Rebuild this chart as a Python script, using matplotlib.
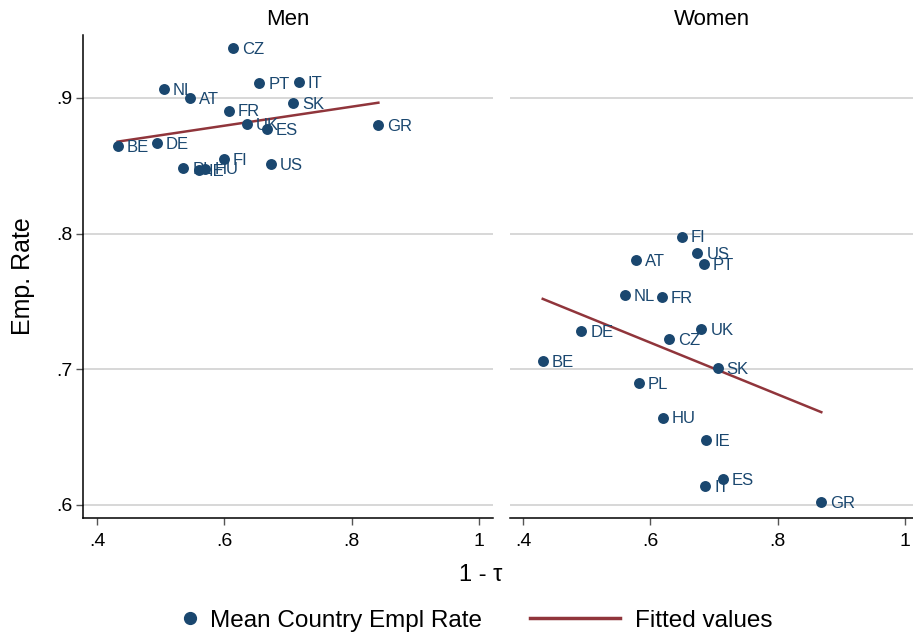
# Employment rate vs 1 - tau, by sex

import matplotlib.pyplot as plt
import numpy as np
from matplotlib.lines import Line2D

plt.rcParams['font.family'] = ['Liberation Sans', 'DejaVu Sans']

countries_men = ['CZ', 'NL', 'AT', 'PT', 'IT', 'SK', 'FR', 'UK', 'ES', 'GR',
                 'BE', 'DE', 'FI', 'US', 'PL', 'IE', 'HU']
x_men = [0.614, 0.505, 0.546, 0.655, 0.717, 0.708, 0.607, 0.635, 0.667, 0.842,
         0.4325, 0.494, 0.5995, 0.673, 0.5356, 0.5607, 0.570]
y_men = [0.937, 0.9066, 0.900, 0.911, 0.912, 0.896, 0.8907, 0.881, 0.877, 0.880,
         0.8646, 0.8666, 0.855, 0.851, 0.8484, 0.847, 0.848]
# fitted values at the ends of the x range
fit_men = [0.8678, 0.8965]

countries_women = ['FI', 'US', 'PT', 'AT', 'NL', 'FR', 'DE', 'UK', 'CZ', 'BE',
                   'SK', 'PL', 'HU', 'IE', 'ES', 'IT', 'GR']
x_women = [0.649, 0.674, 0.684, 0.577, 0.560, 0.618, 0.4916, 0.680, 0.629, 0.431,
           0.7058, 0.5817, 0.6194, 0.687, 0.7137, 0.686, 0.8685]
y_women = [0.7978, 0.7855, 0.7777, 0.7804, 0.7546, 0.7531, 0.7283, 0.7295, 0.7222, 0.706,
           0.701, 0.6898, 0.6644, 0.648, 0.619, 0.6136, 0.6023]
fit_women = [0.7519, 0.6684]

xticks = [0.4, 0.6, 0.8, 1.0]
xtick_labels = ['.4', '.6', '.8', '1']
yticks = [0.6, 0.7, 0.8, 0.9]
ytick_labels = ['.6', '.7', '.8', '.9']

navy = '#1a476f'
maroon = '#90353b'

fig = plt.figure(figsize=(9.13, 6.4), dpi=100)
ax_men = fig.add_axes([0.0912, 0.1911, 0.4484, 0.7542])
ax_women = fig.add_axes([0.5586, 0.1911, 0.4414, 0.7542])


def draw_panel(ax, names, xs, ys, fit, title, xlim):
    for yt in yticks:
        ax.axhline(yt, color='#d4d4d4', linewidth=1.3, zorder=0)
    ax.scatter(xs, ys, s=62, color=navy, zorder=3, linewidths=0)
    for name, x, y in zip(names, xs, ys):
        ax.annotate(name, (x, y), xytext=(6.5, -1), textcoords='offset points',
                    va='center', ha='left', fontsize=12, color=navy, zorder=4)
    ax.plot([min(xs), max(xs)], fit, color=maroon, linewidth=1.8, zorder=2)
    ax.set_xlim(xlim)
    ax.set_ylim(0.5906, 0.9464)
    ax.set_xticks(xticks)
    ax.set_xticklabels(xtick_labels)
    ax.tick_params(axis='x', labelsize=14, length=5, width=1, color='#555555', pad=6)
    ax.set_title(title, fontsize=16, pad=7)
    for s in ['top', 'right']:
        ax.spines[s].set_visible(False)
    ax.spines['bottom'].set_linewidth(1.1)
    ax.spines['left'].set_linewidth(1.1)


draw_panel(ax_men, countries_men, x_men, y_men, fit_men, 'Men', (0.3785, 1.0215))
draw_panel(ax_women, countries_women, x_women, y_women, fit_women, 'Women', (0.3796, 1.0125))

ax_men.set_yticks(yticks)
ax_men.set_yticklabels(ytick_labels)
ax_men.tick_params(axis='y', labelsize=14, length=5, width=1, color='#555555', pad=3)
ax_men.set_ylabel('Emp. Rate', fontsize=18)
ax_men.yaxis.set_label_coords(-0.118, 0.5)

ax_women.set_yticks([])
ax_women.spines['left'].set_visible(False)

fig.text(0.526, 0.101, '1 - \u03c4', fontsize=17, ha='center', va='center')

h_dot = Line2D([], [], linestyle='none', marker='o', markersize=8.5, color=navy)
h_line = Line2D([], [], color=maroon, linewidth=2.5)
fig.legend([h_dot], ['Mean Country Empl Rate'], loc='center left', bbox_to_anchor=(0.195, 0.03),
           frameon=False, fontsize=17.5, handlelength=1, handletextpad=0.3,
           borderpad=0, borderaxespad=0)
fig.legend([h_line], ['Fitted values'], loc='center left', bbox_to_anchor=(0.5805, 0.03),
           frameon=False, fontsize=17.5, handlelength=3.7, handletextpad=0.62,
           borderpad=0, borderaxespad=0)

plt.savefig('out.png', dpi=100)
